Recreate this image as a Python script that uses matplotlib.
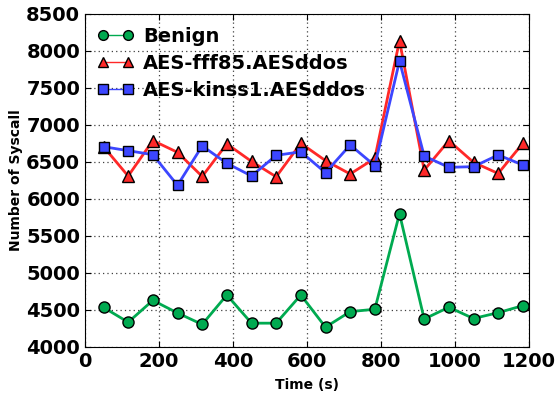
import matplotlib
matplotlib.use("Agg")
import matplotlib.pyplot as plt
import numpy as np

time_s = [50, 116.7, 183.3, 250, 316.7, 383.3, 450, 516.7, 583.3, 650,
          716.7, 783.3, 850, 916.7, 983.3, 1050, 1116.7, 1183.3]
benign = [4535, 4335, 4630, 4460, 4305, 4703, 4322, 4322, 4703, 4268,
          4478, 4510, 5802, 4378, 4537, 4385, 4464, 4559]
aes_fff85 = [6707, 6310, 6790, 6631, 6305, 6745, 6508, 6300, 6753, 6518,
             6338, 6550, 8140, 6390, 6788, 6496, 6345, 6753]
aes_kinss1 = [6707, 6653, 6599, 6185, 6717, 6483, 6311, 6590, 6638, 6356,
              6730, 6451, 7865, 6581, 6428, 6437, 6595, 6460]

labels = ["Benign", "AES-fff85.AESddos", "AES-kinss1.AESddos"]
xticks = [0, 200, 400, 600, 800, 1000, 1200]
yticks = [4000, 4500, 5000, 5500, 6000, 6500, 7000, 7500, 8000, 8500]

plt.rcParams['font.family'] = ['DejaVu Sans']
plt.rcParams['font.weight'] = 'bold'

fig = plt.figure(figsize=(5.57, 3.94), dpi=100)
ax = fig.add_axes([85/557, 1-347/394, (529-85)/557, (347-14)/394])

ax.plot(time_s, benign, color='#00aa50', lw=2, marker='o', ms=8,
        mec='black', mew=1, label=labels[0])
ax.plot(time_s, aes_fff85, color='#ff2828', lw=2, marker='^', ms=8.5,
        mec='black', mew=1, label=labels[1])
ax.plot(time_s, aes_kinss1, color='#3c46ff', lw=2, marker='s', ms=7.5,
        mec='black', mew=1, label=labels[2])

ax.set_xlim(0, 1200)
ax.set_ylim(4000, 8500)
ax.set_xticks(xticks)
ax.set_yticks(yticks)
ax.tick_params(direction='in', top=True, right=True, labelsize=14, length=4)
for lab in ax.get_xticklabels() + ax.get_yticklabels():
    lab.set_fontweight('bold')
ax.grid(True, color='0.25', linestyle=(0, (1, 2.5)), linewidth=0.9)
ax.set_xlabel('Time (s)', fontsize=10, fontweight='bold', labelpad=5)
ax.set_ylabel('Number of Syscall', fontsize=10, fontweight='bold', labelpad=2)

leg = ax.legend(loc='upper left', frameon=False, numpoints=2,
                prop={'size': 14, 'weight': 'bold'}, handlelength=1.85,
                borderaxespad=0.25, labelspacing=0.42, handletextpad=0.5)
for h in leg.legend_handles:
    h.set_linewidth(1)
    h.set_markersize(7)

fig.savefig('out.png', dpi=100)
